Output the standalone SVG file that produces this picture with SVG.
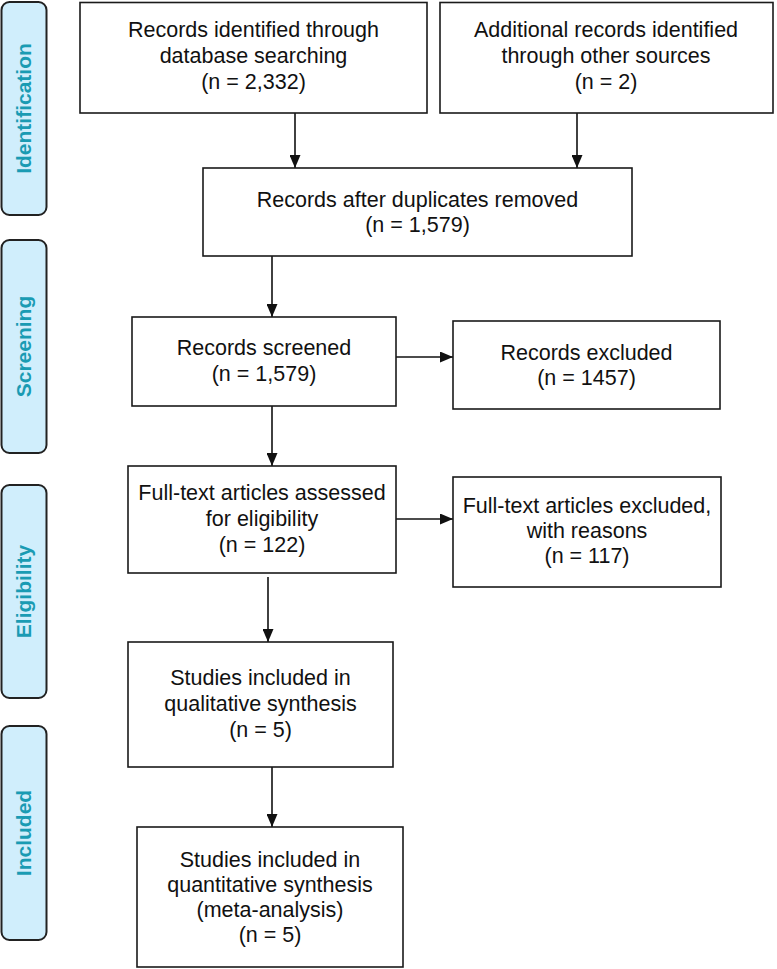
<svg xmlns="http://www.w3.org/2000/svg" width="777" height="969" viewBox="0 0 777 969">
<style>
.box{fill:#fff;stroke:#1a1a1a;stroke-width:1.6}
.tab{fill:#d0eefc;stroke:#222;stroke-width:2}
.t{font-family:"Liberation Sans",Arial,sans-serif;font-size:21.5px;fill:#111;text-anchor:middle}
.tl{font-family:"Liberation Sans",Arial,sans-serif;font-size:21px;font-weight:bold;fill:#1a9bb3;text-anchor:middle}
.c{stroke:#111;stroke-width:1.6;fill:none}
</style>
<defs>
<marker id="ah" viewBox="0 0 13 11" refX="13" refY="5.5" markerWidth="13" markerHeight="11" markerUnits="userSpaceOnUse" orient="auto">
<path d="M0,0 L13,5.5 L0,11 z" fill="#111"/>
</marker>
</defs>
<rect width="777" height="969" fill="#fff"/>
<g id="tab-identification"><rect class="tab" x="1.5" y="2" width="45" height="213" rx="8"/><text class="tl" transform="translate(31,108.5) rotate(-90)">Identification</text></g>
<g id="tab-screening"><rect class="tab" x="1.5" y="240" width="45" height="213" rx="8"/><text class="tl" transform="translate(31,346.5) rotate(-90)">Screening</text></g>
<g id="tab-eligibility"><rect class="tab" x="1.5" y="485" width="45" height="213" rx="8"/><text class="tl" transform="translate(31,591.5) rotate(-90)">Eligibility</text></g>
<g id="tab-included"><rect class="tab" x="1.5" y="726" width="45" height="214" rx="8"/><text class="tl" transform="translate(31,833) rotate(-90)">Included</text></g>
<g id="connectors">
<line class="c" x1="295" y1="113" x2="295" y2="168" marker-end="url(#ah)"/>
<line class="c" x1="577" y1="113" x2="577" y2="168" marker-end="url(#ah)"/>
<line class="c" x1="272" y1="256" x2="272" y2="317" marker-end="url(#ah)"/>
<line class="c" x1="396" y1="357" x2="453" y2="357" marker-end="url(#ah)"/>
<line class="c" x1="272" y1="406" x2="272" y2="466" marker-end="url(#ah)"/>
<line class="c" x1="396" y1="519" x2="453" y2="519" marker-end="url(#ah)"/>
<line class="c" x1="268" y1="577" x2="268" y2="642" marker-end="url(#ah)"/>
<line class="c" x1="272" y1="767" x2="272" y2="827" marker-end="url(#ah)"/>
</g>
<g id="n1"><rect class="box" x="80" y="2.5" width="347" height="110.5"/><text class="t" x="253.5" y="37">Records identified through</text><text class="t" x="253.5" y="63">database searching</text><text class="t" x="253.5" y="89">(n = 2,332)</text></g>
<g id="n2"><rect class="box" x="440" y="2.5" width="333" height="110.5"/><text class="t" x="606" y="37">Additional records identified</text><text class="t" x="606" y="63">through other sources</text><text class="t" x="606" y="89">(n = 2)</text></g>
<g id="n3"><rect class="box" x="203" y="168" width="429" height="88"/><text class="t" x="417.5" y="207">Records after duplicates removed</text><text class="t" x="417.5" y="232">(n = 1,579)</text></g>
<g id="n4"><rect class="box" x="132" y="317" width="264" height="89"/><text class="t" x="264" y="355">Records screened</text><text class="t" x="264" y="381">(n = 1,579)</text></g>
<g id="n5"><rect class="box" x="453" y="321" width="267" height="88"/><text class="t" x="586.5" y="360">Records excluded</text><text class="t" x="586.5" y="385">(n = 1457)</text></g>
<g id="n6"><rect class="box" x="128" y="466" width="268" height="107"/><text class="t" x="262" y="500">Full-text articles assessed</text><text class="t" x="262" y="526">for eligibility</text><text class="t" x="262" y="552">(n = 122)</text></g>
<g id="n7"><rect class="box" x="453" y="477" width="268" height="110"/><text class="t" x="587" y="513">Full-text articles excluded,</text><text class="t" x="587" y="538">with reasons</text><text class="t" x="587" y="563">(n = 117)</text></g>
<g id="n8"><rect class="box" x="128" y="642" width="265" height="125"/><text class="t" x="260.5" y="685">Studies included in</text><text class="t" x="260.5" y="711">qualitative synthesis</text><text class="t" x="260.5" y="737">(n = 5)</text></g>
<g id="n9"><rect class="box" x="137" y="827" width="266" height="140"/><text class="t" x="270" y="867">Studies included in</text><text class="t" x="270" y="892">quantitative synthesis</text><text class="t" x="270" y="917">(meta-analysis)</text><text class="t" x="270" y="942">(n = 5)</text></g>
</svg>
